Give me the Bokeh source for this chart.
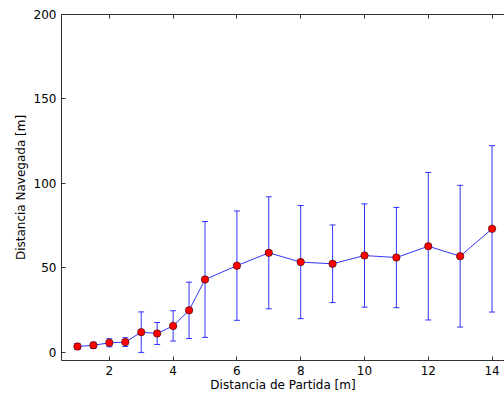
from bokeh.plotting import figure
from bokeh.models import (ColumnDataSource, Whisker, TeeHead, LinearAxis, FixedTicker,
                          Range1d, CustomJSTickFormatter)
from bokeh.embed import file_html
from bokeh.resources import INLINE

# Data
dist_partida = [1, 1.5, 2, 2.5, 3, 3.5, 4, 4.5, 5, 6, 7, 8, 9, 10, 11, 12, 13, 14]
dist_navegada = [3.3, 4.0, 5.5, 5.9, 11.8, 11.0, 15.5, 24.7, 43.0, 51.2, 58.8, 53.3,
                 52.3, 57.2, 56.0, 62.7, 56.8, 73.0]
error = [1.8, 1.8, 2.4, 2.6, 12.0, 6.5, 9.0, 16.7, 34.3, 32.4, 33.2, 33.5,
         23.0, 30.6, 29.7, 43.7, 42.0, 49.3]
x_ticks = [2, 4, 6, 8, 10, 12, 14]
y_ticks = [0, 50, 100, 150, 200]

src = ColumnDataSource(data=dict(
    x=dist_partida,
    y=dist_navegada,
    upper=[m + e for m, e in zip(dist_navegada, error)],
    lower=[m - e for m, e in zip(dist_navegada, error)],
))

FONT = "DejaVu Sans"

p = figure(width=504, height=394, output_backend="svg", toolbar_location=None,
           x_range=Range1d(0.5, 14.39), y_range=Range1d(-5, 200),
           min_border_left=61, min_border_right=0, min_border_top=14, min_border_bottom=33)
p.outline_line_color = None
p.xgrid.visible = False
p.ygrid.visible = False
p.background_fill_color = "white"
p.border_fill_color = "white"

blue = "#0000ff"

whisk = Whisker(source=src, base="x", upper="upper", lower="lower",
                line_color=blue, line_width=1, line_alpha=0.8,
                upper_head=TeeHead(size=6, line_color=blue, line_width=1, line_alpha=0.8),
                lower_head=TeeHead(size=6, line_color=blue, line_width=1, line_alpha=0.8))
p.add_layout(whisk)

p.line("x", "y", source=src, line_color=blue, line_width=1, line_alpha=0.8)
p.scatter("x", "y", source=src, size=7.5, fill_color="red", line_color="black", line_width=0.5)

for ax in (p.xaxis[0], p.yaxis[0]):
    ax.major_tick_in = 4
    ax.major_tick_out = 0
    ax.minor_tick_line_color = None
    ax.axis_line_color = "#333333"
    ax.major_tick_line_color = "#333333"
    ax.major_label_text_font = FONT
    ax.major_label_text_font_size = "12px"
    ax.major_label_text_color = "black"
    ax.axis_label_text_font = FONT
    ax.axis_label_text_font_size = "12px"
    ax.axis_label_text_font_style = "normal"
    ax.axis_label_text_color = "black"

p.xaxis.ticker = FixedTicker(ticks=x_ticks)
p.yaxis.ticker = FixedTicker(ticks=y_ticks)
p.xaxis.axis_label = "Distancia de Partida [m]"
p.yaxis.axis_label = "Distancia Navegada [m]"
p.xaxis.major_label_standoff = 5
p.xaxis.axis_label_standoff = 0
p.yaxis.major_label_standoff = 5
p.yaxis.axis_label_standoff = 3

top = LinearAxis(ticker=FixedTicker(ticks=x_ticks), major_tick_in=4, major_tick_out=0,
                 minor_tick_line_color=None,
                 formatter=CustomJSTickFormatter(code="return '';"),
                 major_label_standoff=0, axis_line_color="#333333",
                 major_tick_line_color="#333333")
p.add_layout(top, "above")

open("out.html", "w").write(file_html(p, INLINE))
